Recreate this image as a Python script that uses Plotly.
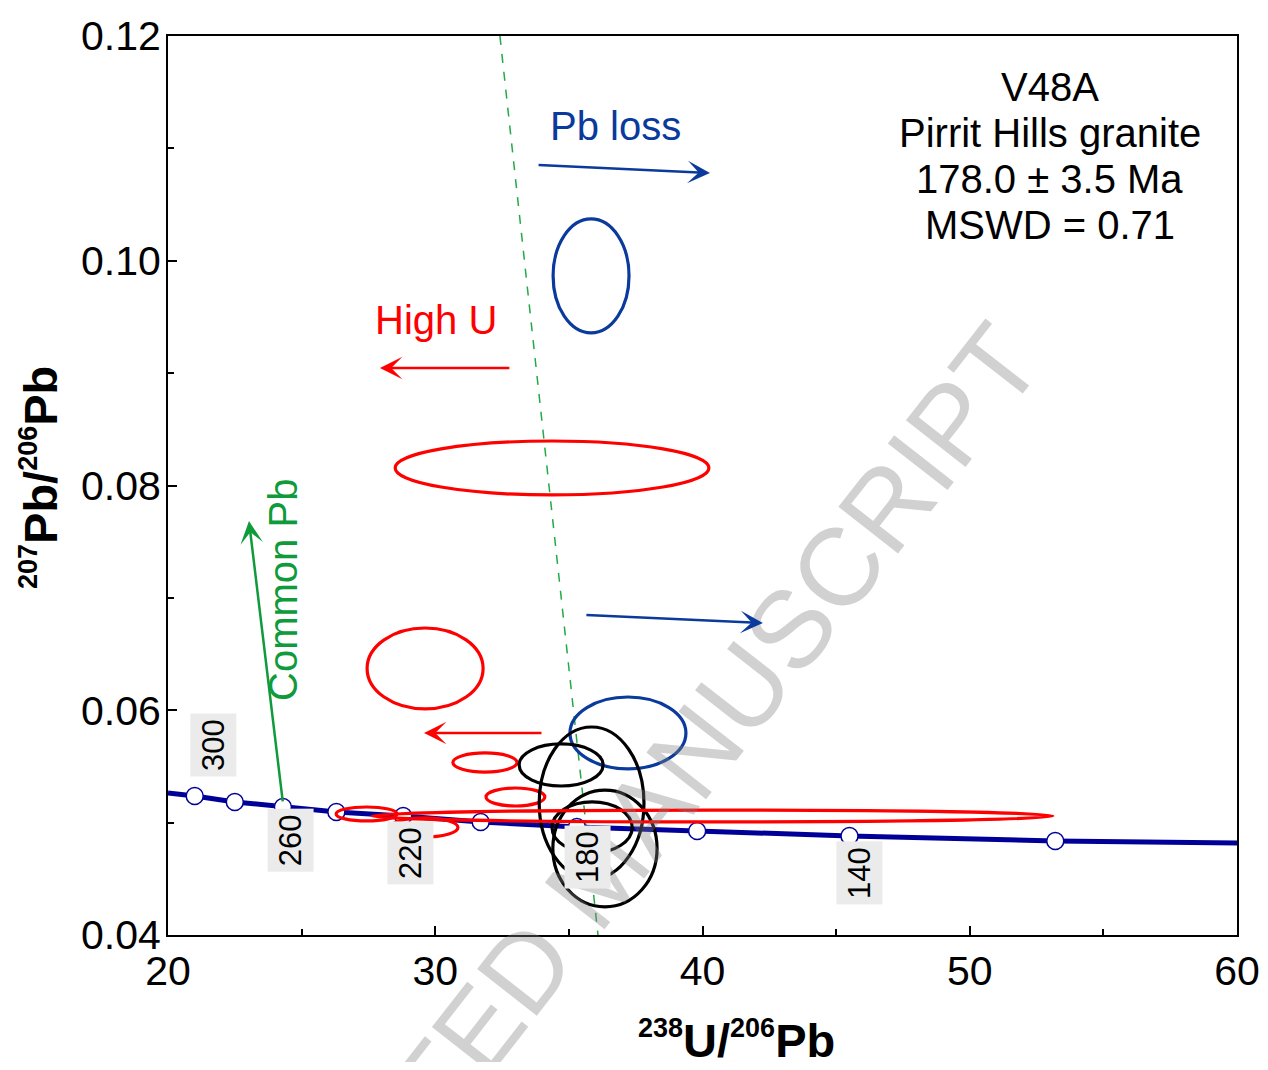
import plotly.graph_objects as go

# ---------------- data ----------------
# concordia age markers (Ma) and their Tera-Wasserburg coordinates
conc_age = [300, 280, 260, 240, 220, 200, 180, 160, 140, 120]
conc_x = [21.0, 22.5, 24.3, 26.3, 28.8, 31.7, 35.3, 39.8, 45.5, 53.2]
conc_y = [0.05237, 0.05184, 0.05139, 0.05095, 0.05059, 0.05006, 0.04961, 0.04926, 0.04881, 0.04837]

# concordia curve (ends at the axis limits)
curve_x = [20.0] + conc_x + [60.0]
curve_y = [0.05264] + conc_y + [0.04819]

# error ellipses: centre, semi-axes, group colour
ell_x = [35.83, 34.37, 29.62, 37.21, 31.86, 33.00, 34.71, 35.85, 35.87, 36.35, 40.37, 27.43, 29.58]
ell_y = [0.09865, 0.08156, 0.06372, 0.05798, 0.05535, 0.05228, 0.05513, 0.05175, 0.04957, 0.04770, 0.05059, 0.05077, 0.04957]
ell_rx = [1.42, 5.87, 2.17, 2.17, 1.20, 1.10, 1.57, 1.96, 1.50, 1.95, 12.74, 1.14, 1.27]
ell_ry = [0.00507, 0.00240, 0.00360, 0.00320, 0.00085, 0.00080, 0.00187, 0.00676, 0.00227, 0.00520, 0.00053, 0.00062, 0.00085]
ell_group = ["pbloss", "highu", "highu", "pbloss", "highu", "highu", "conc", "conc", "conc", "conc", "highu", "highu", "highu"]

# regression (dashed) line end points
reg_x = [32.42, 36.09]
reg_y = [0.12, 0.04]

# arrows: tail -> head
arrow_x0 = [33.81, 35.60, 32.83, 34.03, 24.30]
arrow_y0 = [0.10852, 0.06848, 0.09046, 0.05798, 0.05175]
arrow_x1 = [40.28, 42.26, 27.93, 29.58, 23.03]
arrow_y1 = [0.10781, 0.06777, 0.09046, 0.05798, 0.07684]
arrow_group = ["pbloss", "pbloss", "highu", "highu", "common"]

# age labels on the concordia
age_lab = ["300", "260", "220", "180", "140"]
age_lab_x = [21.68, 24.57, 29.09, 35.68, 45.89]
age_lab_y = [0.0569, 0.04845, 0.0473, 0.04694, 0.04552]

# sample information
info_lines = ["V48A", "Pirrit Hills granite", "178.0 ± 3.5 Ma", "MSWD = 0.71"]
info_x = 53.0
info_y = [0.11546, 0.11137, 0.10728, 0.10318]

x_ticks = [20, 30, 40, 50, 60]
y_ticks = [0.04, 0.06, 0.08, 0.10, 0.12]

# ---------------- styling ----------------
FONT = "Liberation Sans, Arial, sans-serif"
COL = {"pbloss": "#0a3a9c", "highu": "#ff0000", "conc": "#000000", "common": "#0f9a3c"}
NAVY = "#000099"

# the page body has an 8px margin; the figure is sized to fit the window without
# scrollbars, so that the plot area lands at x 168..1237, y 36..935
W, H = 1252, 1054
ML, MT = 160, 28
PW, PH = 1069, 899
MR, MB = W - ML - PW, H - MT - PH


def px_x(p):  # window pixel -> paper x
    return (p - 8 - ML) / PW


def px_y(p):  # window pixel -> paper y
    return (H - MB - (p - 8)) / PH


fig = go.Figure()

fig.add_trace(go.Scatter(x=reg_x, y=reg_y, mode="lines",
                         line=dict(color="#22aa44", width=1.5, dash="dash"),
                         showlegend=False, hoverinfo="skip"))
fig.add_trace(go.Scatter(x=curve_x, y=curve_y, mode="lines",
                         line=dict(color=NAVY, width=5), showlegend=False))
fig.add_trace(go.Scatter(x=conc_x, y=conc_y, mode="markers", text=conc_age,
                         marker=dict(symbol="circle", size=17, color="white",
                                     line=dict(color=NAVY, width=1.5)),
                         showlegend=False))

shapes = []
for cx, cy, rx, ry, g in zip(ell_x, ell_y, ell_rx, ell_ry, ell_group):
    shapes.append(dict(type="circle", xref="x", yref="y",
                       x0=cx - rx, x1=cx + rx, y0=cy - ry, y1=cy + ry,
                       line=dict(color=COL[g], width=3.2), layer="above"))

annotations = []
# watermark
annotations.append(dict(text="ACCEPTED MANUSCRIPT", xref="paper", yref="paper",
                        x=px_x(598), y=px_y(874), showarrow=False,
                        textangle=-52, font=dict(family=FONT, size=110,
                                                 color="rgba(128,128,128,0.36)"),
                        xanchor="center", yanchor="middle"))

for x0, y0, x1, y1, g in zip(arrow_x0, arrow_y0, arrow_x1, arrow_y1, arrow_group):
    annotations.append(dict(x=x1, y=y1, ax=x0, ay=y0, xref="x", yref="y",
                            axref="x", ayref="y", text="", showarrow=True,
                            arrowhead=3, arrowsize=1.5, arrowwidth=2.5,
                            arrowcolor=COL[g], standoff=0))

annotations.append(dict(text="Pb loss", x=36.76, y=0.1120, xref="x", yref="y",
                        showarrow=False, font=dict(family=FONT, size=40, color=COL["pbloss"])))
annotations.append(dict(text="High U", x=30.03, y=0.09473, xref="x", yref="y",
                        showarrow=False, font=dict(family=FONT, size=40, color=COL["highu"])))
annotations.append(dict(text="Common Pb", x=24.30, y=0.0707, xref="x", yref="y",
                        textangle=-90, showarrow=False,
                        font=dict(family=FONT, size=40, color=COL["common"])))

for t, yy in zip(info_lines, info_y):
    annotations.append(dict(text=t, x=info_x, y=yy, xref="x", yref="y", showarrow=False,
                            font=dict(family=FONT, size=40, color="black")))

for t, xx, yy in zip(age_lab, age_lab_x, age_lab_y):
    annotations.append(dict(text=t, x=xx, y=yy, xref="x", yref="y", showarrow=False,
                            textangle=-90, bgcolor="#ebebeb", borderpad=5,
                            font=dict(family=FONT, size=31, color="black")))

# axis titles
SUP = "<sup><span style='font-size:27px'>{}</span></sup>"
annotations.append(dict(text="<b>" + SUP.format("238") + "U/" + SUP.format("206") + "Pb</b>",
                        xref="paper", yref="paper",
                        x=px_x(737), y=px_y(1040), showarrow=False,
                        xanchor="center", yanchor="middle",
                        font=dict(family=FONT, size=47, color="black")))
annotations.append(dict(text="<b>" + SUP.format("207") + "Pb/" + SUP.format("206") + "Pb</b>",
                        xref="paper", yref="paper",
                        x=px_x(40), y=px_y(478), showarrow=False,
                        textangle=-90, xanchor="center", yanchor="middle",
                        font=dict(family=FONT, size=47, color="black")))

axis_common = dict(showgrid=False, zeroline=False, showline=True, linecolor="black",
                   linewidth=2, mirror=True, ticks="inside", tickcolor="black",
                   tickwidth=2, ticklen=9, automargin=False,
                   tickfont=dict(family=FONT, size=41, color="black"))

fig.update_layout(
    width=W, height=H,
    margin=dict(l=ML, r=MR, t=MT, b=MB, autoexpand=False),
    paper_bgcolor="white", plot_bgcolor="white",
    font=dict(family=FONT),
    showlegend=False,
    xaxis=dict(range=[20, 60], tickvals=x_ticks, ticktext=[str(v) for v in x_ticks],
               minor=dict(ticks="inside", dtick=5, tick0=20, ticklen=6, tickwidth=2,
                          tickcolor="black"),
               ticklabelstandoff=-1, **axis_common),
    yaxis=dict(range=[0.04, 0.12], tickvals=y_ticks, ticktext=[f"{v:.2f}" for v in y_ticks],
               minor=dict(ticks="inside", dtick=0.01, tick0=0.04, ticklen=6, tickwidth=2,
                          tickcolor="black"),
               ticklabelstandoff=-3, **axis_common),
    shapes=shapes,
    annotations=annotations,
)

fig.write_html("out.html")
